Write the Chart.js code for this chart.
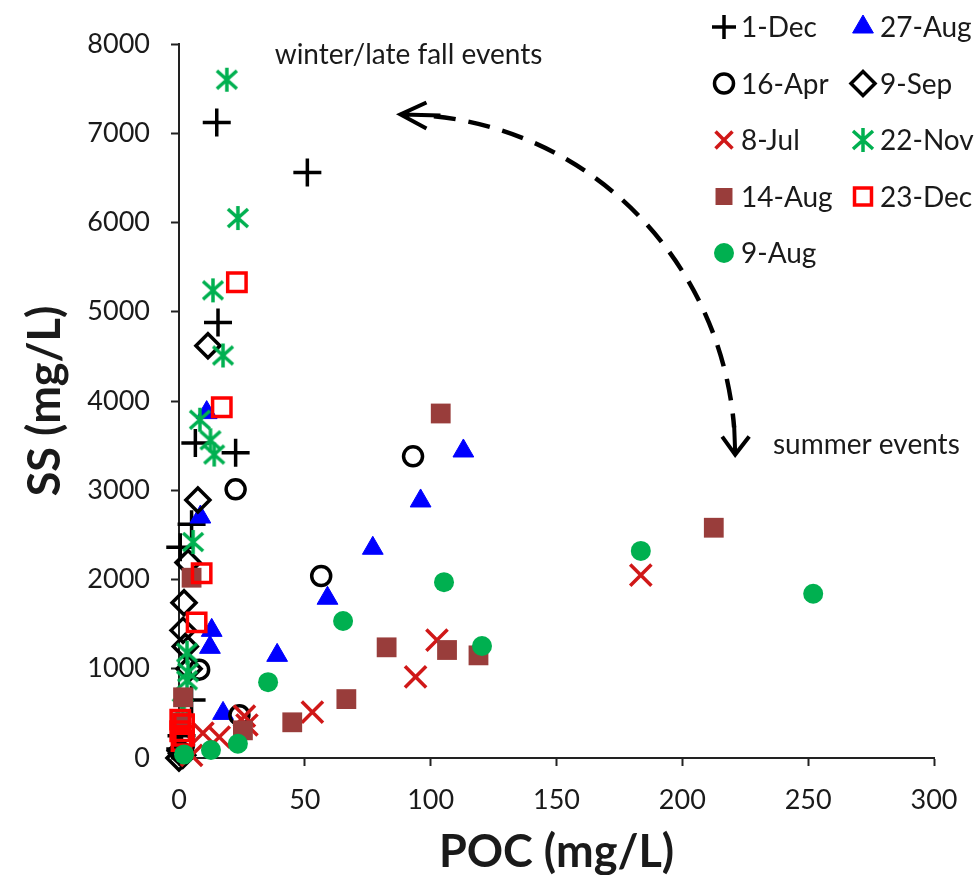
<!DOCTYPE html>
<html>
<head>
<meta charset="utf-8">
<script src="https://cdn.jsdelivr.net/npm/chart.js@4.4.0/dist/chart.umd.min.js"></script>
<style>
  body { margin: 0; background: #fff; }
  #wrap { width: 980px; height: 875px; }
</style>
</head>
<body>
<div id="wrap"><canvas id="ssChart"></canvas></div>
<script>
// events, in legend order (two columns, read row by row)
const events = ['1-Dec', '27-Aug', '16-Apr', '9-Sep', '8-Jul', '22-Nov', '14-Aug', '23-Dec', '9-Aug'];

// POC (mg/L) / SS (mg/L) per event
const poc_1Dec  = [15, 51, 15.5, 22.5, 6.5, 5, 0.5, 5, 1, 0.5];
const ss_1Dec   = [7120, 6560, 4880, 3420, 3530, 2620, 2360, 650, 250, 100];

const poc_27Aug = [113, 96, 77, 59, 39, 17.5, 11, 8.5, 13, 12.3];
const ss_27Aug  = [3440, 2880, 2350, 1790, 1150, 500, 3870, 2700, 1430, 1240];

const poc_16Apr = [93, 56.5, 22.5, 24, 8, 1, 2];
const ss_16Apr  = [3380, 2040, 3010, 480, 990, 60, 150];

const poc_9Sep  = [11.5, 7.5, 3.6, 2, 1.6, 2.5, 4, 1, 0.5, 1.5, 0];
const ss_9Sep   = [4620, 2890, 2190, 1740, 1430, 1250, 1000, 50, 80, 30, 0];

const poc_8Jul  = [183.5, 102.5, 94, 53, 27, 26, 16, 9.5, 5];
const ss_8Jul   = [2050, 1320, 910, 515, 370, 470, 235, 280, 30];

const poc_22Nov = [19, 23.4, 13.5, 17.5, 8.3, 12.5, 14, 5.6, 3.2, 3.6, 3.2, 1.5];
const ss_22Nov  = [7600, 6050, 5240, 4510, 3790, 3560, 3400, 2420, 1180, 960, 870, 560];

const poc_14Aug = [104, 212.5, 82.5, 106.5, 119, 66.5, 45, 25.4, 5, 1.6, 1];
const ss_14Aug  = [3860, 2580, 1240, 1210, 1150, 660, 400, 310, 2020, 680, 400];

const poc_23Dec = [23, 17, 9, 7, 0.5, 2, 0.5, 2, 1];
const ss_23Dec  = [5330, 3930, 2070, 1520, 430, 380, 300, 250, 190];

const poc_9Aug  = [252, 183.5, 105.3, 120.4, 65.2, 35.4, 12.7, 23.4, 2];
const ss_9Aug   = [1840, 2320, 1970, 1255, 1535, 850, 90, 160, 40];

const xTicks = [0, 50, 100, 150, 200, 250, 300];
const yTicks = [0, 1000, 2000, 3000, 4000, 5000, 6000, 7000, 8000];

const pocByEvent = [poc_1Dec, poc_27Aug, poc_16Apr, poc_9Sep, poc_8Jul, poc_22Nov, poc_14Aug, poc_23Dec, poc_9Aug];
const ssByEvent  = [ss_1Dec, ss_27Aug, ss_16Apr, ss_9Sep, ss_8Jul, ss_22Nov, ss_14Aug, ss_23Dec, ss_9Aug];

// Excel-like "*" marker: an X with a vertical bar
function starMarker(color) {
  const c = document.createElement('canvas');
  c.width = 28; c.height = 28;
  const g = c.getContext('2d');
  g.strokeStyle = color;
  g.lineWidth = 3.5;
  g.beginPath();
  g.moveTo(14, 2); g.lineTo(14, 26);
  g.moveTo(4, 5); g.lineTo(24, 23);
  g.moveTo(24, 5); g.lineTo(4, 23);
  g.stroke();
  return c;
}

const markerStyle = [
  { pointStyle: 'cross',    radius: 14, fill: '#000',    stroke: '#000',    bw: 3.5 }, // 1-Dec
  { pointStyle: 'triangle', radius: 12, fill: '#0000ff', stroke: '#0000ff', bw: 1 },   // 27-Aug
  { pointStyle: 'circle',   radius: 9.5, fill: 'rgba(0,0,0,0)', stroke: '#000', bw: 3.5 }, // 16-Apr
  { pointStyle: 'rectRot',  radius: 12, fill: 'rgba(0,0,0,0)', stroke: '#000', bw: 3.5 }, // 9-Sep
  { pointStyle: 'crossRot', radius: 15, fill: '#d01818', stroke: '#d01818', bw: 3.5 }, // 8-Jul
  { pointStyle: starMarker('#00b050'), radius: 13, fill: '#00b050', stroke: '#00b050', bw: 0 }, // 22-Nov
  { pointStyle: 'rect',     radius: 14, fill: '#993d3b', stroke: '#993d3b', bw: 0 },   // 14-Aug
  { pointStyle: 'rect',     radius: 13, fill: 'rgba(0,0,0,0)', stroke: '#ff0000', bw: 3.5 }, // 23-Dec
  { pointStyle: 'circle',   radius: 10, fill: '#00b050', stroke: '#00b050', bw: 0 }    // 9-Aug
];

const datasets = events.map((name, i) => ({
  label: name,
  data: pocByEvent[i].map((x, j) => ({ x: x, y: ssByEvent[i][j] })),
  showLine: false,
  clip: false,
  order: events.length - i,   // later series on top, as in Excel
  pointStyle: markerStyle[i].pointStyle,
  pointRadius: markerStyle[i].radius,
  pointHoverRadius: markerStyle[i].radius,
  pointBackgroundColor: markerStyle[i].fill,
  pointBorderColor: markerStyle[i].stroke,
  pointBorderWidth: markerStyle[i].bw,
  pointHoverBorderWidth: markerStyle[i].bw
}));

const FONT = 'Lato, "Open Sans", sans-serif';

// arrow, notes and the two-column legend
const extras = {
  id: 'extras',
  afterDatasetsDraw(chart) {
    const ctx = chart.ctx;
    const xs = chart.scales.x, ys = chart.scales.y;

    // dashed quarter-ellipse arrow
    const cx = xs.getPixelForValue(88), cy = ys.getPixelForValue(3400);
    const rx = xs.getPixelForValue(221) - cx, ry = cy - ys.getPixelForValue(7210);
    ctx.save();
    ctx.strokeStyle = '#000';
    ctx.lineWidth = 4.5;
    ctx.setLineDash([22, 13]);
    ctx.beginPath();
    ctx.ellipse(cx, cy, rx, ry, 0, -Math.PI / 2 + 0.1, -0.08);
    ctx.stroke();
    ctx.setLineDash([]);
    ctx.lineWidth = 4;
    // left head
    const lx = cx, ly = cy - ry;
    ctx.beginPath();
    ctx.moveTo(lx + 40, ly + 1); ctx.lineTo(lx + 2, ly);
    ctx.moveTo(lx + 26, ly - 12); ctx.lineTo(lx, ly); ctx.lineTo(lx + 26, ly + 14);
    ctx.stroke();
    // bottom head
    const bx = cx + rx, by = cy;
    ctx.beginPath();
    ctx.moveTo(bx - 1, by - 28); ctx.lineTo(bx, by - 2);
    ctx.moveTo(bx - 13, by - 18); ctx.lineTo(bx, by); ctx.lineTo(bx + 14, by - 18);
    ctx.stroke();

    ctx.fillStyle = '#1a1a1a';
    ctx.font = '28px ' + FONT;
    ctx.textAlign = 'left';
    ctx.textBaseline = 'middle';
    ctx.fillText('winter/late fall events', xs.getPixelForValue(38), ys.getPixelForValue(7880));
    ctx.fillText('summer events', xs.getPixelForValue(236), ys.getPixelForValue(3510));

    // legend
    ctx.font = '28px ' + FONT;
    events.forEach((name, i) => {
      const col = i % 2, row = Math.floor(i / 2);
      const mx = col === 0 ? 724 : 863;
      const my = 27 + row * 56.5;
      const m = markerStyle[i];
      ctx.fillStyle = m.fill;
      ctx.strokeStyle = m.stroke;
      ctx.lineWidth = m.bw;
      Chart.helpers.drawPoint(ctx, {
        pointStyle: m.pointStyle,
        radius: Math.min(m.radius, 12),
        rotation: 0,
        borderWidth: m.bw
      }, mx, my);
      ctx.fillStyle = '#1a1a1a';
      ctx.fillText(name, mx + 17, my + 1);
    });
    ctx.restore();
  }
};

new Chart(document.getElementById('ssChart').getContext('2d'), {
  type: 'scatter',
  data: { datasets: datasets },
  plugins: [extras],
  options: {
    responsive: true,
    maintainAspectRatio: false,
    animation: false,
    layout: { padding: { top: 44, right: 46, left: 0, bottom: 0 } },
    plugins: {
      legend: { display: false },
      tooltip: { enabled: false }
    },
    scales: {
      x: {
        type: 'linear',
        min: 0,
        max: 300,
        afterBuildTicks: (scale) => { scale.ticks = xTicks.map(v => ({ value: v })); },
        afterFit: (scale) => { scale.height = 117; },
        grid: { drawOnChartArea: false, drawTicks: true, tickLength: 8, tickWidth: 2, tickColor: '#222' },
        border: { display: true, color: '#222', width: 2 },
        ticks: { color: '#1a1a1a', font: { family: FONT, size: 27 }, padding: 18, maxRotation: 0,
                 callback: (v) => String(v) },
        title: {
          display: true,
          text: 'POC (mg/L)',
          color: '#1a1a1a',
          font: { family: FONT, size: 45, weight: 'bold', lineHeight: 1 },
          padding: { top: 0, bottom: 0 }
        }
      },
      y: {
        type: 'linear',
        min: 0,
        max: 8000,
        afterBuildTicks: (scale) => { scale.ticks = yTicks.map(v => ({ value: v })); },
        afterFit: (scale) => { scale.width = 179; },
        grid: { drawOnChartArea: false, drawTicks: true, tickLength: 8, tickWidth: 2, tickColor: '#222' },
        border: { display: true, color: '#222', width: 2 },
        ticks: { color: '#1a1a1a', font: { family: FONT, size: 27 }, padding: 21,
                 callback: (v) => String(v) },
        title: {
          display: true,
          text: 'SS (mg/L)',
          color: '#1a1a1a',
          font: { family: FONT, size: 45, weight: 'bold', lineHeight: 1 },
          padding: { top: 23, bottom: 0 }
        }
      }
    }
  }
});
</script>
</body>
</html>
